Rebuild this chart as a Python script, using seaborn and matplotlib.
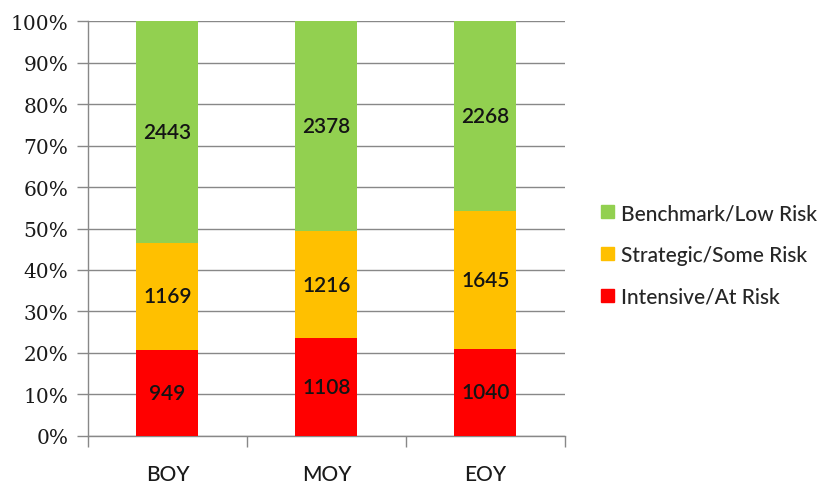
import matplotlib
matplotlib.use("Agg")
import matplotlib.pyplot as plt
import matplotlib.patches as mpatches
from matplotlib.ticker import FixedLocator
import numpy as np
import pandas as pd
import seaborn as sns

# Student counts per screening window and risk tier
periods = ["BOY", "MOY", "EOY"]
intensive = [949, 1108, 1040]
strategic = [1169, 1216, 1645]
benchmark = [2443, 2378, 2268]

tier_names = ["Intensive/At Risk", "Strategic/Some Risk", "Benchmark/Low Risk"]
tier_colors = ["#FF0000", "#FFC000", "#92D050"]
y_ticks = [0, 10, 20, 30, 40, 50, 60, 70, 80, 90, 100]

sns.set_theme(style="white")
plt.rcParams["font.family"] = ["Lato", "DejaVu Sans"]

counts = np.array([intensive, strategic, benchmark], dtype=float)
totals = counts.sum(axis=0)
shares = counts / totals * 100

fig = plt.figure(figsize=(8.33, 4.85), dpi=100)
ax = fig.add_axes([0.1056, 0.099, 0.5725, 0.8556])

bottom = np.zeros(len(periods))
for name, color, share, cnt in zip(tier_names, tier_colors, shares, counts):
    df = pd.DataFrame({"period": periods, "share": share})
    sns.barplot(data=df, x="period", y="share", order=periods, color=color,
                bottom=bottom, width=0.39, saturation=1, ax=ax,
                edgecolor="none", linewidth=0, zorder=3, errorbar=None)
    for i, (b, s, c) in enumerate(zip(bottom, share, cnt)):
        ax.text(i, b + s / 2, f"{int(c)}", ha="center", va="center",
                fontsize=15, color="#141414", family="Lato",
                fontweight="semibold", zorder=4)
    bottom = bottom + share

ax.set_xlim(-0.5, len(periods) - 0.5)
ax.set_ylim(0, 100)
ax.yaxis.set_major_locator(FixedLocator(y_ticks))
ax.set_yticklabels([f"{t}%" for t in y_ticks], fontsize=14.5,
                   family="DejaVu Serif", color="#1a1a1a")
ax.set_xlabel("")
ax.set_ylabel("")
ax.set_xticks(range(len(periods)))
ax.set_xticklabels(periods, fontsize=15, family="Lato", fontweight="medium",
                   color="#1a1a1a")
ax.tick_params(axis="x", length=0, pad=20)
ax.tick_params(axis="y", length=8, width=1, color="#888888", pad=6, left=True)

# minor ticks between categories on the x axis
ax.set_xticks([-0.5, 0.5, 1.5, 2.5], minor=True)
ax.tick_params(axis="x", which="minor", length=8, width=1, color="#888888",
               direction="out", bottom=True)

ax.grid(axis="y", color="#888888", linewidth=1, zorder=0)
ax.grid(axis="x", visible=False)
for side in ["top", "right"]:
    ax.spines[side].set_visible(False)
ax.spines["left"].set_color("#888888")
ax.spines["bottom"].set_color("#888888")
ax.spines["left"].set_linewidth(1)
ax.spines["bottom"].set_linewidth(1)

handles = [mpatches.Patch(color=c, label=n)
           for n, c in zip(tier_names[::-1], tier_colors[::-1])]
fig.legend(handles=handles, loc="center left", bbox_to_anchor=(0.699, 0.472),
           frameon=False,
           prop={"family": "Lato", "size": 15, "weight": "medium"},
           handlelength=0.6, handleheight=0.6, handletextpad=0.35,
           labelspacing=1.05)

fig.savefig("out.png", dpi=100, facecolor="white")
